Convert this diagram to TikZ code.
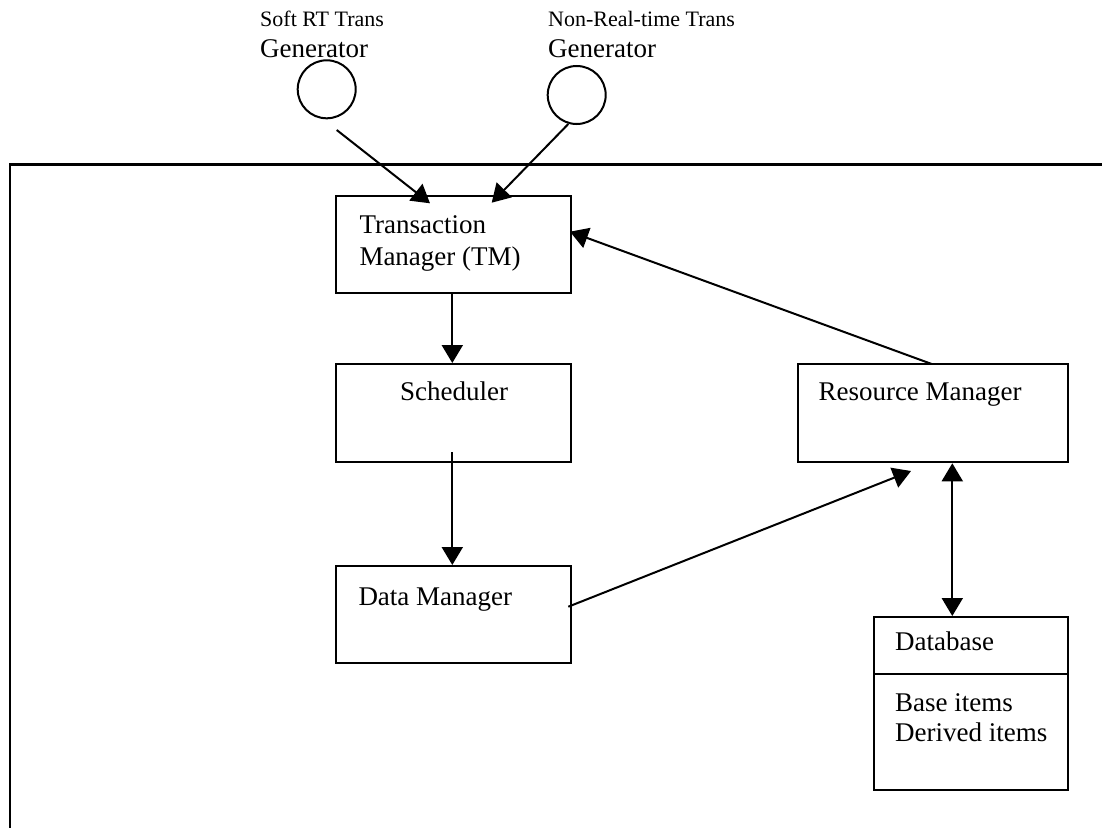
\documentclass[tikz,border=0pt]{standalone}
\usepackage{fontspec}
\setmainfont{Liberation Serif}
\usetikzlibrary{arrows.meta,calc}
\begin{document}
\begin{tikzpicture}[x=1pt,y=-1pt,
  box/.style={draw,line width=2pt,rectangle,inner sep=0pt},
  gen/.style={draw,line width=2pt,circle,minimum size=58pt,inner sep=0pt},
  lbl/.style={anchor=base west,inner sep=0pt,font=\fontsize{27}{30}\selectfont},
  slbl/.style={anchor=base west,inner sep=0pt,font=\fontsize{22}{26}\selectfont},
  conn/.style={line width=2pt,-{Triangle[length=18pt,width=21pt]}},
  dconn/.style={line width=2pt,{Triangle[length=18pt,width=21pt]}-{Triangle[length=18pt,width=21pt]}}]
\useasboundingbox (0,0) rectangle (1102,827);
% outer frame
\draw[line width=2.6pt] (1110,164.3) -- (10,164.3) -- (10,835);
% generators
\node[slbl] (t1a) at (260,26.7) {Soft RT Trans};
\node[lbl] (t1b) at (260,57) {Generator};
\node[slbl] (t2a) at (548,27) {Non-Real-time Trans};
\node[lbl] (t2b) at (548,57) {Generator};
\node[gen] (g1) at (326.7,89.3) {};
\node[gen] (g2) at (576.7,95) {};
% boxes
\node[box,minimum width=235pt,minimum height=97pt] (tm) at (453.5,244.5) {};
\node[lbl] (tmt1) at (359.3,233.3) {Transaction};
\node[lbl] (tmt2) at (359.3,265) {Manager (TM)};
\node[box,minimum width=235pt,minimum height=98pt] (sch) at (453.5,413) {};
\node[lbl] (scht) at (400,400.7) {Scheduler};
\node[box,minimum width=235pt,minimum height=97pt] (dm) at (453.5,614.5) {};
\node[lbl] (dmt) at (358.3,605) {Data Manager};
\node[box,minimum width=270pt,minimum height=98pt] (rm) at (933.3,413.3) {};
\node[lbl] (rmt) at (818.3,400.7) {Resource Manager};
\node[box,minimum width=194pt,minimum height=173pt] (db) at (971.3,703.5) {};
\draw[line width=2pt] (db.west |- 0,674) -- (db.east |- 0,674);
\node[lbl] (dbt) at (895,650) {Database};
\node[lbl] (dbi1) at (895,711.7) {Base items};
\node[lbl] (dbi2) at (895,741.7) {Derived items};
% connector endpoints
\coordinate (a1s) at (336.7,130);
\coordinate (a1e) at (430,203.3);
\coordinate (a2s) at (568.3,124);
\coordinate (a2e) at (491.7,202.7);
\coordinate (rmtop) at (931.7,364);
\coordinate (tmin) at (570,231.7);
\coordinate (schout) at (452.3,452.3);
\coordinate (dmout) at (568.3,606.7);
\coordinate (rmin) at (911,471);
\coordinate (rmbot) at (952.3,463.3);
\coordinate (dbtop) at (952.3,616);
% connectors
\draw[conn] (a1s) -- (a1e);
\draw[conn] (a2s) -- (a2e);
\draw[conn] (rmtop) -- (tmin);
\draw[conn] (tm.south -| schout) -- (sch.north -| schout);
\draw[conn] (schout) -- (dm.north -| schout);
\draw[conn] (dmout) -- (rmin);
\draw[dconn] (rmbot) -- (dbtop);
\end{tikzpicture}
\end{document}
